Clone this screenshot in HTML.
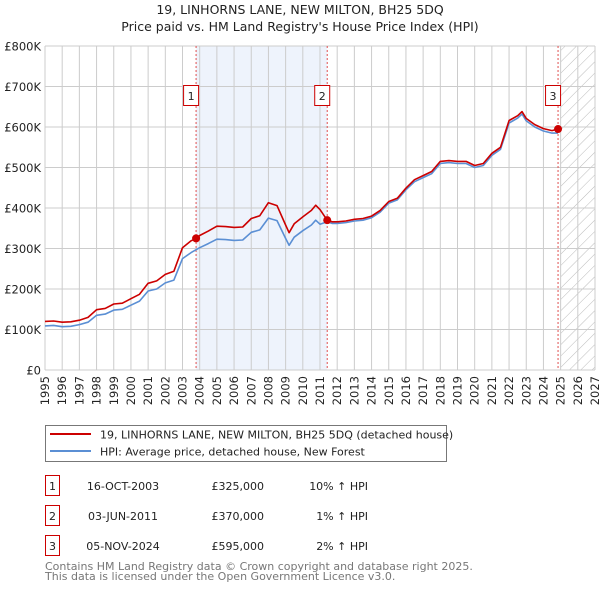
<!DOCTYPE html>
<html><head><meta charset="utf-8"><style>
body{margin:0;background:#fff;font-family:"Liberation Sans","DejaVu Sans",sans-serif;}
svg text{font-family:"DejaVu Sans","Liberation Sans",sans-serif;}
</style></head><body>
<svg id="c" width="600" height="590" viewBox="0 0 600 590" xmlns="http://www.w3.org/2000/svg">
<defs><pattern id="hatch" width="8" height="8" patternUnits="userSpaceOnUse" patternTransform="rotate(45)"><line x1="0" y1="0" x2="0" y2="8" stroke="#bbb" stroke-width="1"/></pattern></defs>
<text x="300" y="14" text-anchor="middle" font-size="12.5" fill="#222">19, LINHORNS LANE, NEW MILTON, BH25 5DQ</text>
<text x="300" y="31" text-anchor="middle" font-size="12.5" fill="#222">Price paid vs. HM Land Registry's House Price Index (HPI)</text>
<g id="plot"></g>
<g>
<rect x="45.5" y="425.5" width="401" height="36" fill="#fff" stroke="#777"/>
<line x1="50" y1="434" x2="91" y2="434" stroke="#cc0000" stroke-width="2"/>
<text x="100" y="438.5" font-size="11" fill="#222">19, LINHORNS LANE, NEW MILTON, BH25 5DQ (detached house)</text>
<line x1="50" y1="451" x2="91" y2="451" stroke="#5b8fd4" stroke-width="2"/>
<text x="100" y="455.5" font-size="11" fill="#222">HPI: Average price, detached house, New Forest</text>
</g>
<g font-size="11" fill="#222">
<rect x="45.5" y="475.5" width="14" height="20" fill="#fff" stroke="#cc0000"/><text x="52.5" y="490" text-anchor="middle">1</text>
<text x="123" y="490" text-anchor="middle">16-OCT-2003</text><text x="264" y="490" text-anchor="end">£325,000</text><text x="368" y="490" text-anchor="end">10% ↑ HPI</text>
<rect x="45.5" y="505.5" width="14" height="20" fill="#fff" stroke="#cc0000"/><text x="52.5" y="520" text-anchor="middle">2</text>
<text x="123" y="520" text-anchor="middle">03-JUN-2011</text><text x="264" y="520" text-anchor="end">£370,000</text><text x="368" y="520" text-anchor="end">1% ↑ HPI</text>
<rect x="45.5" y="535.5" width="14" height="20" fill="#fff" stroke="#cc0000"/><text x="52.5" y="550" text-anchor="middle">3</text>
<text x="123" y="550" text-anchor="middle">05-NOV-2024</text><text x="264" y="550" text-anchor="end">£595,000</text><text x="368" y="550" text-anchor="end">2% ↑ HPI</text>
</g>
<text x="45" y="570" font-size="11" fill="#777">Contains HM Land Registry data © Crown copyright and database right 2025.</text>
<text x="45" y="580" font-size="11" fill="#777">This data is licensed under the Open Government Licence v3.0.</text>
</svg>
<script>
const years=[1995,1995.5,1996,1996.5,1997,1997.5,1998,1998.5,1999,1999.5,2000,2000.5,2001,2001.5,2002,2002.5,2003,2003.5,2003.79,2004,2004.5,2005,2005.5,2006,2006.5,2007,2007.5,2008,2008.5,2009,2009.2,2009.5,2010,2010.5,2010.75,2011,2011.42,2011.7,2012,2012.5,2013,2013.5,2014,2014.5,2015,2015.5,2016,2016.5,2017,2017.5,2018,2018.5,2019,2019.5,2020,2020.5,2021,2021.5,2022,2022.5,2022.75,2023,2023.5,2024,2024.5,2024.85];
const hpi=[109,110,107,108,112,118,135,138,148,150,160,170,195,200,215,222,275,290,297,302,312,323,322,320,321,340,346,375,369,325,308,328,344,358,370,360,366,362,362,364,368,370,376,390,412,420,445,465,475,485,510,512,510,510,500,505,530,545,610,622,632,615,600,590,585,585];
const price=[120,121,118,119,123,130,149,152,163,165,176,187,214,220,236,244,302,319,325,332,343,355,354,352,353,374,381,413,406,358,339,361,378,394,407,396,370,366,366,368,372,374,380,394,416,424,449,470,480,490,515,517,515,515,505,510,535,550,616,628,638,621,606,596,591,595];
const saleYears=[2003.79,2011.42,2024.85];
const salePrices=[325,370,595];
const saleLabels=["1","2","3"];
const yTicks=[0,100,200,300,400,500,600,700,800];
const yTickLabels=["£0","£100K","£200K","£300K","£400K","£500K","£600K","£700K","£800K"];
const xMin=1995,xMax=2027,L=45,R=595,T=46,B=370;
const X=v=>L+(v-xMin)/(xMax-xMin)*(R-L);
const Y=v=>B-v/800*(B-T);
const NS="http://www.w3.org/2000/svg",g=document.getElementById('plot');
function mk(t,a,p){const e=document.createElementNS(NS,t);for(const k in a)e.setAttribute(k,a[k]);(p||g).appendChild(e);return e;}
let sh=mk('rect',{x:X(saleYears[0]),y:T,width:X(saleYears[1])-X(saleYears[0]),height:B-T,fill:'#eef3fc'});


let ht=mk('rect',{x:X(2025),y:T,width:R-X(2025),height:B-T,fill:'url(#hatch)'});


for(let yr=xMin;yr<=xMax;yr++){
 let l=mk('line',{x1:X(yr),y1:T,x2:X(yr),y2:B,stroke:'#ccc','stroke-width':1});
 
 
 let t=mk('text',{x:0,y:0,'font-size':11.5,fill:'#222','text-anchor':'end',transform:`translate(${X(yr)+4},${B+6}) rotate(-90)`});
 t.textContent=yr;
 
 
}
yTicks.forEach((v,i)=>{
 let l=mk('line',{x1:L,y1:Y(v),x2:R,y2:Y(v),stroke:'#ccc','stroke-width':1});
 
 
 let t=mk('text',{x:L-4,y:Y(v)+4.5,'font-size':11.5,fill:'#222','text-anchor':'end'});
 t.textContent=yTickLabels[i];
 
 
});
saleYears.forEach((s,i)=>{
 let l=mk('line',{x1:X(s),y1:T,x2:X(s),y2:B,stroke:'#e05050','stroke-width':1,'stroke-dasharray':'2,2'});
 
 
});
function path(arr,col,name){
 let d=arr.map((v,i)=>(i?'L':'M')+X(years[i]).toFixed(1)+','+Y(v).toFixed(1)).join('');
 let p=mk('path',{d:d,fill:'none',stroke:col,'stroke-width':1.6,'stroke-linejoin':'round'});
 
 
}
path(hpi,'#5b8fd4','hpi-line');
path(price,'#cc0000','price-paid-line');
saleYears.forEach((s,i)=>{
 let c=mk('circle',{cx:X(s),cy:Y(salePrices[i]),r:4,fill:'#cc0000'});
 
 
 let bx=mk('rect',{x:X(s)-12.5,y:85.5,width:15,height:20,fill:'#fff',stroke:'#cc0000'});
 
 
 let t=mk('text',{x:X(s)-5,y:100,'font-size':11,fill:'#222','text-anchor':'middle'});
 t.textContent=saleLabels[i];
 
 
});
</script>
</body></html>
